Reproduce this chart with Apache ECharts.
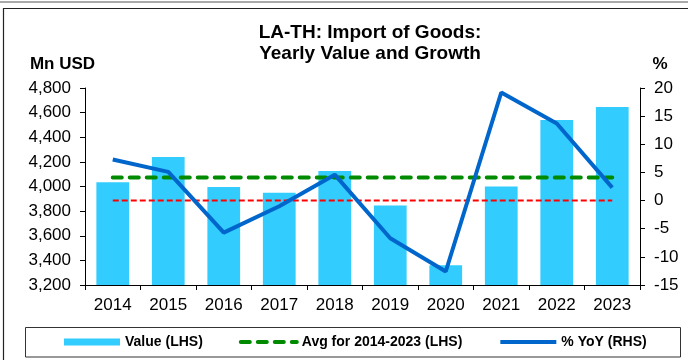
<!DOCTYPE html>
<html>
<head>
<meta charset="utf-8">
<title>LA-TH: Import of Goods</title>
<script src="https://cdn.jsdelivr.net/npm/echarts@6/dist/echarts.min.js"></script>
<style>
  html, body { margin: 0; padding: 0; background: #fff; }
  #chart { width: 688px; height: 360px; }
</style>
</head>
<body>
<div id="chart"></div>
<script>
// Yearly import of goods, Laos from Thailand
const years = ['2014', '2015', '2016', '2017', '2018', '2019', '2020', '2021', '2022', '2023'];
const importValues = [4035, 4240, 3995, 3950, 4125, 3845, 3360, 4000, 4540, 4645];   // Mn USD
const yoyGrowth = [7.3, 5.1, -5.7, -1.0, 4.6, -6.7, -12.6, 19.2, 13.7, 2.3];        // %

// Axis scales
const valueAxis = { min: 3200, max: 4800, step: 200 };
const growthAxis = { min: -15, max: 20, step: 5 };

const seriesNames = ['Value (LHS)', 'Avg for 2014-2023 (LHS)', '% YoY (RHS)'];

const avgValue = importValues.reduce((a, b) => a + b, 0) / importValues.length;
const avgLine = years.map(() => avgValue);
const zeroLine = years.map(() => 0);

const FONT = '"Liberation Sans", Arial, sans-serif';
const BAR = '#33CCFF';
const GREEN = '#008A00';
const BLUE = '#0066CC';
const RED = '#FF0000';

const chart = echarts.init(document.getElementById('chart'), null, { renderer: 'canvas' });

const axisText = { color: '#000', fontFamily: FONT, fontSize: 17 };
const noMarker = { color: 'rgba(0,0,0,0)', borderWidth: 0, opacity: 0 };

chart.setOption({
  animation: false,
  backgroundColor: '#fff',
  textStyle: { fontFamily: FONT },
  grid: { left: 85, right: 48, top: 88, bottom: 75, containLabel: false },
  xAxis: {
    type: 'category',
    data: years,
    boundaryGap: true,
    axisLine: { onZero: false, lineStyle: { color: '#000', width: 1 } },
    axisTick: { show: true, length: 5, lineStyle: { color: '#000' } },
    axisLabel: Object.assign({ margin: 12, interval: 0 }, axisText),
    splitLine: { show: false }
  },
  yAxis: [
    {
      type: 'value',
      min: valueAxis.min, max: valueAxis.max, interval: valueAxis.step,
      axisLine: { show: true, onZero: false, lineStyle: { color: '#000', width: 1 } },
      axisTick: { show: true, length: 5, lineStyle: { color: '#000' } },
      axisLabel: Object.assign({ margin: 14, formatter: v => v.toLocaleString('en-US') }, axisText),
      splitLine: { show: false }
    },
    {
      type: 'value',
      position: 'right',
      min: growthAxis.min, max: growthAxis.max, interval: growthAxis.step,
      axisLine: { show: true, onZero: false, lineStyle: { color: '#000', width: 1 } },
      axisTick: { show: true, length: 5, lineStyle: { color: '#000' } },
      axisLabel: Object.assign({ margin: 14 }, axisText),
      splitLine: { show: false }
    }
  ],
  legend: {
    left: 64,
    top: 335,
    padding: 0,
    itemGap: 36,
    itemWidth: 56,
    itemHeight: 7,
    textStyle: { color: '#000', fontFamily: FONT, fontSize: 14, fontWeight: 'bold' },
    data: [
      { name: seriesNames[0], icon: 'rect' },
      { name: seriesNames[1], itemStyle: noMarker, lineStyle: { width: 4, type: [9, 8], cap: 'round', color: GREEN } },
      { name: seriesNames[2], itemStyle: noMarker, lineStyle: { width: 4, color: BLUE } }
    ]
  },
  graphic: [
    // outer frame
    { type: 'line', shape: { x1: 0, y1: 2, x2: 688, y2: 2 }, style: { stroke: '#555', lineWidth: 1 }, silent: true },
    { type: 'polyline', shape: { points: [[3.5, 362], [3.5, 8.5], [690, 8.5]] }, style: { stroke: '#222', lineWidth: 1.2, fill: null }, silent: true },
    // legend border
    { type: 'rect', shape: { x: 25.5, y: 327.5, width: 655, height: 29.5 }, style: { stroke: '#333', lineWidth: 1, fill: null }, silent: true, z: -1 },
    // title
    {
      type: 'text', x: 370, y: 43,
      style: {
        text: 'LA-TH: Import of Goods:\nYearly Value and Growth',
        fontFamily: FONT, fontSize: 19, fontWeight: 'bold', lineHeight: 21,
        fill: '#000', align: 'center', verticalAlign: 'middle'
      },
      silent: true
    },
    {
      type: 'text', x: 62.5, y: 64,
      style: { text: 'Mn USD', fontFamily: FONT, fontSize: 17, fontWeight: 'bold', fill: '#000', align: 'center', verticalAlign: 'middle' },
      silent: true
    },
    {
      type: 'text', x: 660, y: 64,
      style: { text: '%', fontFamily: FONT, fontSize: 17, fontWeight: 'bold', fill: '#000', align: 'center', verticalAlign: 'middle' },
      silent: true
    }
  ],
  series: [
    {
      name: seriesNames[0],
      type: 'bar',
      yAxisIndex: 0,
      data: importValues,
      barWidth: '59%',
      itemStyle: { color: BAR },
      z: 2
    },
    {
      name: 'Zero',
      type: 'line',
      yAxisIndex: 1,
      data: zeroLine,
      symbol: 'none',
      lineStyle: { color: RED, width: 2, type: [6, 3] },
      silent: true,
      z: 3
    },
    {
      name: seriesNames[1],
      type: 'line',
      yAxisIndex: 0,
      data: avgLine,
      symbol: 'none',
      lineStyle: { color: GREEN, width: 4, type: [9, 8], cap: 'round' },
      itemStyle: { color: GREEN },
      z: 4
    },
    {
      name: seriesNames[2],
      type: 'line',
      yAxisIndex: 1,
      data: yoyGrowth,
      symbol: 'none',
      lineStyle: { color: BLUE, width: 4 },
      itemStyle: { color: BLUE },
      z: 5
    }
  ]
});
</script>
</body>
</html>
